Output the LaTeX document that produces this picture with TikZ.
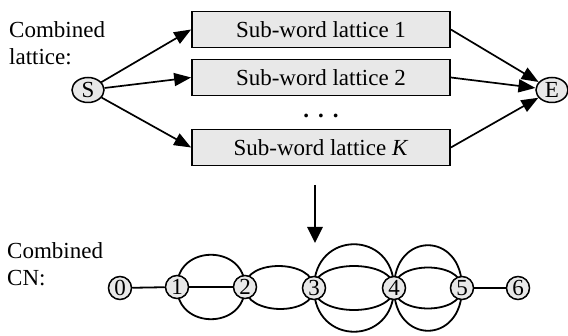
\documentclass[tikz,border=0pt]{standalone}
\usepackage{fontspec}
\setmainfont{Liberation Serif}
\usetikzlibrary{arrows.meta,shapes.geometric,backgrounds}
\begin{document}
\begin{tikzpicture}[x=1pt,y=-1pt,
  every node/.style={font=\fontsize{23}{27.5}\selectfont},
  box/.style={draw,line width=1.7pt,fill=gray!18,minimum width=258pt,minimum height=36pt,inner sep=0pt},
  term/.style={draw,ellipse,line width=1.5pt,fill=gray!18,minimum width=32pt,minimum height=25pt,inner sep=0pt},
  cn/.style={draw,circle,line width=1.5pt,fill=gray!18,minimum size=23pt,inner sep=0pt},
  arr/.style={line width=1.7pt,-{Triangle[length=17pt,width=13pt]}},
  bigarr/.style={line width=2.8pt,-{Triangle[length=16pt,width=15pt]}},
  cnline/.style={line width=1.8pt},
  lbl/.style={align=left,anchor=north west,inner sep=0pt}]
\useasboundingbox (0,0) rectangle (568,336);

% labels
\node[lbl] (lab1) at (9,21) {Combined\\lattice:};
\node[lbl] (lab2) at (7,242) {Combined\\CN:};

% lattice part
\node[term] (S) at (88,90) {S};
\node[term] (E) at (552,90) {E};
\node[box] (b1) at (321,29.5) {Sub-word lattice 1};
\node[box] (b2) at (321,77.5) {Sub-word lattice 2};
\node[box] (bK) at (321,147.5) {Sub-word lattice \textit{K}};
\node[anchor=base,inner sep=0pt] (dots) at (321,118) {\textbf{.\hspace{9pt}.\hspace{9pt}.}};

\draw[arr] (S) -- (b1.west);
\draw[arr] (S) -- (b2.west);
\draw[arr] (S) -- (bK.west);
\draw[arr] (b1.east) -- (E);
\draw[arr] (b2.east) -- (E);
\draw[arr] (bK.east) -- (E);

\coordinate (a1) at (315,185);
\coordinate (a2) at (315,243);
\draw[bigarr] (a1) -- (a2);

% confusion network
\node[cn] (n0) at (120,288) {0};
\node[cn] (n1) at (177,287) {1};
\node[cn] (n2) at (245,287) {2};
\node[cn] (n3) at (314,288) {3};
\node[cn] (n4) at (394,288) {4};
\node[cn] (n5) at (462,288) {5};
\node[cn] (n6) at (518,288) {6};

\begin{scope}[on background layer]
\draw[cnline] (n0) -- (n1);
\draw[cnline] (n1) -- (n2);
\draw[cnline] (n5) -- (n6);
% 1-2
\draw[cnline] (n1.center) to[out=-90,in=-90,looseness=1.62] (n2.center);
\draw[cnline] (n1.center) to[out=90,in=90,looseness=1.62] (n2.center);
% 2-3
\draw[cnline] (n2.center) to[out=-90,in=-90,looseness=1.06] (n3.center);
\draw[cnline] (n2.center) to[out=90,in=90,looseness=1.06] (n3.center);
% 3-4
\draw[cnline] (n3.center) to[out=-90,in=-90,looseness=0.94] (n4.center);
\draw[cnline] (n3.center) to[out=90,in=90,looseness=0.94] (n4.center);
\draw[cnline] (n3.center) to[out=-90,in=-90,looseness=1.87] (n4.center);
\draw[cnline] (n3.center) to[out=90,in=90,looseness=1.87] (n4.center);
% 4-5
\draw[cnline] (n4.center) to[out=-90,in=-90,looseness=1.03] (n5.center);
\draw[cnline] (n4.center) to[out=90,in=90,looseness=1.03] (n5.center);
\draw[cnline] (n4.center) to[out=-90,in=-90,looseness=2.15] (n5.center);
\draw[cnline] (n4.center) to[out=90,in=90,looseness=2.15] (n5.center);
\end{scope}
\end{tikzpicture}
\end{document}
